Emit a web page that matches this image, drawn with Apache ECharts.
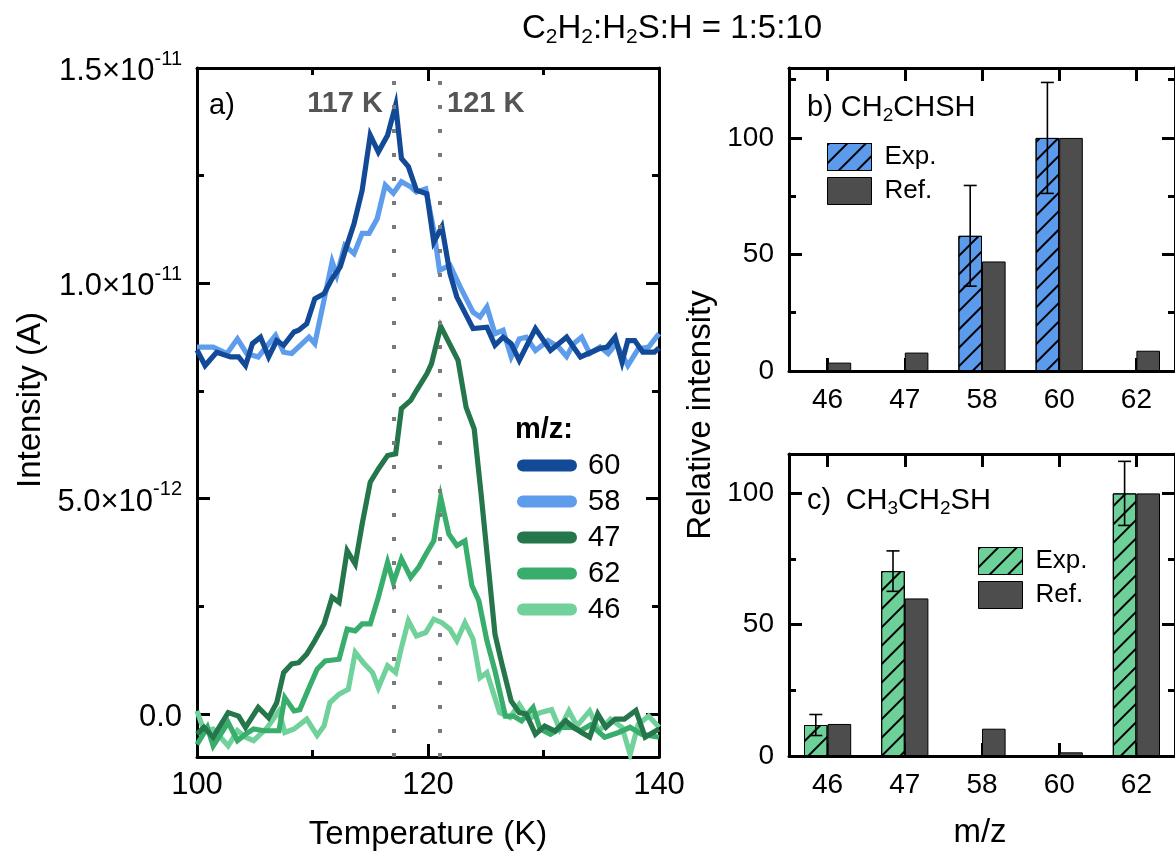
<!DOCTYPE html>
<html><head><meta charset="utf-8">
<script src="https://cdn.jsdelivr.net/npm/echarts@6/dist/echarts.min.js"></script>
<style>html,body{margin:0;padding:0;background:#fff}#c{width:1175px;height:857px}</style>
</head><body><div id="c"></div>
<script>
// ---------- Panel a) TPD traces (intensity in units of 1e-12 A) ----------
const t60 = [100.0,100.7,101.7,102.9,103.6,104.2,104.8,105.5,106.2,106.9,107.5,108.4,108.8,109.5,110.2,111.0,111.7,112.4,112.8,113.6,114.3,115.0,115.7,116.5,117.2,117.7,118.3,119.0,119.9,120.5,121.2,121.9,122.5,123.9,125.1,125.8,126.5,127.2,127.9,129.3,130.6,132.0,133.2,134.8,135.5,136.2,136.8,137.3,137.9,138.6,139.6,140.0];
const i60 = [8.45,8.09,8.40,8.29,8.29,8.09,8.60,8.75,8.29,8.67,8.56,8.87,8.91,9.06,9.64,9.76,10.11,10.38,10.73,11.39,12.16,13.44,13.05,13.44,14.14,12.90,12.71,12.16,12.08,10.96,11.31,10.23,9.68,8.95,8.98,8.56,8.75,8.60,8.21,8.95,8.44,8.75,8.29,8.48,8.52,8.75,8.17,8.67,8.67,8.40,8.40,8.50];
const t58 = [100.0,101.4,102.6,103.5,104.3,105.3,106.8,107.5,108.2,109.7,110.2,111.7,112.1,112.8,113.6,114.3,114.9,115.6,116.3,117.0,117.7,118.5,119.0,119.8,120.5,121.0,121.9,122.8,123.9,124.5,125.1,125.8,126.5,127.2,127.9,128.5,129.3,130.4,131.3,132.0,132.6,133.3,134.0,134.9,135.6,136.3,137.3,138.2,139.1,140.0];
const i58 = [8.52,8.52,8.37,8.71,8.37,8.29,8.79,8.40,8.37,8.75,8.60,10.50,10.19,10.88,10.69,11.16,11.16,11.50,12.28,12.09,12.36,12.24,12.12,12.19,11.23,10.30,10.42,9.91,9.33,9.22,9.45,8.83,8.91,8.29,8.71,8.75,8.44,8.67,8.52,8.30,8.60,8.75,8.37,8.52,8.37,8.60,8.09,8.48,8.52,8.83];
const t47 = [100.0,100.6,101.4,102.7,103.6,104.2,105.3,106.2,106.9,107.5,108.2,108.8,109.5,110.2,111.0,111.7,112.3,113.0,113.7,114.3,115.0,115.7,116.5,117.2,117.7,118.5,119.0,119.9,120.3,121.1,122.6,123.3,124.0,124.6,125.2,125.8,126.4,127.2,127.9,128.5,129.3,130.1,131.0,131.9,132.6,133.3,134.0,134.7,135.4,136.2,137.0,138.0,138.8,140.0];
const i47 = [-0.47,-0.31,-0.54,0.03,-0.05,-0.31,0.15,-0.09,0.26,0.96,1.16,1.19,1.39,1.70,2.09,2.71,2.59,3.79,3.48,4.41,5.38,5.69,6.00,6.04,7.09,7.28,7.51,7.90,8.13,9.00,8.21,7.12,6.62,5.10,3.48,1.85,1.16,0.30,0.03,0.00,-0.47,-0.28,-0.40,-0.16,-0.31,-0.43,-0.54,0.00,-0.31,-0.12,-0.12,0.08,-0.54,-0.35];
const t62 = [100.0,100.9,101.4,102.7,103.5,104.2,104.9,105.8,107.1,107.6,108.4,108.9,109.7,110.4,111.1,112.3,113.0,113.7,114.3,115.0,115.7,116.5,117.0,117.7,118.5,119.2,119.9,120.5,121.1,121.8,122.5,123.2,123.8,124.4,125.1,125.8,126.7,127.4,128.1,129.1,129.7,130.6,131.6,132.5,133.2,134.1,135.3,136.5,137.5,138.5,140.0];
const i62 = [-0.71,-0.31,-0.74,-0.20,-0.62,-0.47,-0.35,-0.39,-0.39,0.38,0.07,0.10,0.61,1.04,1.23,1.27,1.97,1.93,2.09,2.09,2.71,3.52,3.05,3.60,3.17,3.41,3.75,4.02,5.03,4.18,3.91,4.02,2.98,2.63,1.70,1.00,-0.05,-0.05,-0.16,0.15,-0.35,-0.47,-0.31,-0.31,-0.39,-0.25,-0.54,-0.43,-0.31,-0.47,-0.54];
const t46 = [100.0,100.6,101.4,102.7,103.5,104.2,104.9,106.1,107.1,107.6,108.4,109.5,110.4,111.0,111.5,112.3,113.1,113.7,114.4,115.2,115.7,116.5,117.2,117.7,118.3,119.0,119.8,120.5,121.2,121.9,122.5,123.2,123.9,124.5,125.1,126.2,127.1,127.9,128.7,129.7,130.7,131.4,132.2,132.9,134.0,134.8,135.8,136.8,137.5,138.2,139.1,140.0];
const i46 = [0.07,-0.39,-0.35,-0.74,-0.39,-0.54,-0.62,-0.31,0.07,-0.43,-0.35,-0.12,-0.50,-0.28,0.26,0.46,0.57,1.43,1.19,0.96,0.61,1.12,0.96,1.54,2.16,1.81,1.89,2.20,2.12,1.97,1.70,2.12,1.74,0.84,0.96,0.03,-0.08,0.22,-0.12,0.03,0.10,-0.35,0.07,-0.28,0.07,-0.39,-0.12,-0.31,-0.94,-0.24,-0.05,-0.31];
const peakTemps = [117, 121];
const peakLabels = ['117 K', '121 K'];
const yTickValues = [0, 5, 10, 15];
const yTickLabels = ['{n|0.0}', '{n|5.0×10}{s|-12}', '{n|1.0×10}{s|-11}', '{n|1.5×10}{s|-11}'];
const yMinorValues = [2.5, 7.5, 12.5];

// ---------- Panels b) and c) relative intensities ----------
const cats = ['46', '47', '58', '60', '62'];
const expB = [null, null, 58.0, 100, null];
const errB = [null, null, 21.6, 23.8, null];
const refB = [3.6, 7.9, 47.0, 100, 8.7];
const expC = [11.8, 70.4, null, null, 100];
const errC = [4.0, 7.7, null, null, 12.2];
const refC = [12.2, 60.0, 10.4, 1.4, 100];
const barTicks = [0, 50, 100];
const barMinorB = [25, 75, 125];
const barMinorC = [25, 75];

// ---------- styling ----------
const FONT = "'Liberation Sans', Arial, Helvetica, sans-serif";
const C = {c60:'#134a97', c58:'#5e9cec', c47:'#25764b', c62:'#39ae6c', c46:'#70d29a',
           expB:'#5c9bec', expC:'#6dd098', ref:'#4d4d4d', dash:'#7a7a7a'};
const AX = 3, BAR_W = 23.6;

const zip = (t, v) => t.map((x, i) => [x, v[i]]);
const errData = (e, v) => e.map((x, i) => x == null ? null : [i, v[i], x]).filter(d => d);

function errRender(params, api) {
  const xi = api.value(0), v = api.value(1), e = api.value(2);
  const top = api.coord([xi, v + e]);
  const bot = api.coord([xi, v - e]);
  const x = top[0] - BAR_W / 2;
  const cap = 6.5;
  const st = {stroke: '#000', lineWidth: 1.6};
  return {type: 'group', children: [
    {type: 'line', shape: {x1: x, y1: top[1], x2: x, y2: bot[1]}, style: st},
    {type: 'line', shape: {x1: x - cap, y1: top[1], x2: x + cap, y2: top[1]}, style: st},
    {type: 'line', shape: {x1: x - cap, y1: bot[1], x2: x + cap, y2: bot[1]}, style: st}
  ]};
}

const axisLine = {show: true, onZero: false, lineStyle: {color: '#000', width: AX}};
const tickMajor = {show: true, inside: true, length: 13, lineStyle: {color: '#000', width: AX}};
const tickMinor = {show: true, inside: true, length: 7, lineStyle: {color: '#000', width: AX}};

function valueY(grid, pos, min, max, major, minor, labels) {
  const main = {type: 'value', gridIndex: grid, position: pos, min: min, max: max,
    axisLine: axisLine, splitLine: {show: false},
    axisTick: Object.assign({customValues: major}, tickMajor),
    axisLabel: {show: false}};
  if (labels) main.axisLabel = labels;
  const mn = {type: 'value', gridIndex: grid, position: pos, min: min, max: max,
    axisLine: {show: false}, splitLine: {show: false},
    axisTick: Object.assign({customValues: minor}, tickMinor), axisLabel: {show: false}};
  return [main, mn];
}

const leftYLabel = {show: true, customValues: yTickValues, margin: 15,
  formatter: v => yTickLabels[yTickValues.indexOf(v)],
  rich: {n: {fontSize: 31, fontFamily: FONT, color: '#000', lineHeight: 38, verticalAlign: 'bottom'},
         s: {fontSize: 20, fontFamily: FONT, color: '#000', lineHeight: 20, verticalAlign: 'top'}}};
const barYLabel = {show: true, customValues: barTicks, margin: 15, fontSize: 28, color: '#000', fontFamily: FONT};

const yAxes = [].concat(
  valueY(0, 'left', -1, 15, yTickValues, yMinorValues, leftYLabel),   // 0,1
  valueY(0, 'right', -1, 15, yTickValues, yMinorValues, null),        // 2,3
  valueY(1, 'left', 0, 130, barTicks, barMinorB, barYLabel),          // 4,5
  valueY(1, 'right', 0, 130, barTicks, barMinorB, null),              // 6,7
  valueY(2, 'left', 0, 115, barTicks, barMinorC, barYLabel),          // 8,9
  valueY(2, 'right', 0, 115, barTicks, barMinorC, null)               // 10,11
);

function tempX(pos, showLabel) {
  return {type: 'value', gridIndex: 0, position: pos, min: 100, max: 140, interval: 20,
    axisLine: axisLine, splitLine: {show: false}, axisTick: tickMajor,
    minorTick: {show: true, splitNumber: 2, length: 7, lineStyle: {color: '#000', width: AX}},
    axisLabel: showLabel ? {margin: 13, fontSize: 31, color: '#000', fontFamily: FONT} : {show: false}};
}
function catX(grid, pos, showLabel) {
  return {type: 'category', gridIndex: grid, position: pos, data: cats, boundaryGap: true,
    axisLine: axisLine, splitLine: {show: false},
    axisTick: Object.assign({alignWithLabel: true}, tickMajor),
    axisLabel: showLabel ? {margin: 15, fontSize: 28, color: '#000', fontFamily: FONT} : {show: false}};
}

const decal = {symbol: 'rect', symbolSize: 1, color: '#000', dashArrayX: [1, 0], dashArrayY: [1.3, 11], rotation: -Math.PI / 4};

function lineSeries(name, t, v, color, extra) {
  return Object.assign({type: 'line', name: name, xAxisIndex: 0, yAxisIndex: 0,
    data: zip(t, v), showSymbol: false, symbol: 'none', animation: false,
    lineStyle: {color: color, width: 5.2, join: 'miter'}, itemStyle: {color: color}}, extra || {});
}

const series = [
  lineSeries('46', t46, i46, C.c46, {markLine: {silent: true, symbol: ['none', 'none'], animation: false,
    label: {show: false}, lineStyle: {color: C.dash, width: 4, type: [4, 20]},
    data: peakTemps.map(t => ({xAxis: t}))}}),
  lineSeries('62', t62, i62, C.c62),
  lineSeries('47', t47, i47, C.c47),
  lineSeries('58', t58, i58, C.c58),
  lineSeries('60', t60, i60, C.c60),
  {type: 'bar', name: 'Exp. b', xAxisIndex: 2, yAxisIndex: 4, data: expB, barWidth: BAR_W, barGap: '0%', animation: false,
   itemStyle: {color: C.expB, borderColor: '#000', borderWidth: 1, decal: decal}},
  {type: 'bar', name: 'Ref. b', xAxisIndex: 2, yAxisIndex: 4, data: refB, barWidth: BAR_W, barGap: '0%', animation: false,
   itemStyle: {color: C.ref, borderColor: '#000', borderWidth: 1}},
  {type: 'custom', name: 'err b', xAxisIndex: 2, yAxisIndex: 4, data: errData(errB, expB), renderItem: errRender, z: 5, animation: false},
  {type: 'bar', name: 'Exp. c', xAxisIndex: 4, yAxisIndex: 8, data: expC, barWidth: BAR_W, barGap: '0%', animation: false,
   itemStyle: {color: C.expC, borderColor: '#000', borderWidth: 1, decal: decal}},
  {type: 'bar', name: 'Ref. c', xAxisIndex: 4, yAxisIndex: 8, data: refC, barWidth: BAR_W, barGap: '0%', animation: false,
   itemStyle: {color: C.ref, borderColor: '#000', borderWidth: 1}},
  {type: 'custom', name: 'err c', xAxisIndex: 4, yAxisIndex: 8, data: errData(errC, expC), renderItem: errRender, z: 5, animation: false}
];

const barLegend = (names, left, top) => ({
  data: names, orient: 'vertical', left: left, top: top, itemWidth: 44, itemHeight: 27, itemGap: 6,
  icon: 'rect', selectedMode: false, padding: 0,
  formatter: n => n.split(' ')[0],
  itemStyle: {borderColor: '#000', borderWidth: 1},
  textStyle: {fontSize: 26, color: '#000', fontFamily: FONT, padding: [0, 0, 0, 8]}
});

const rt = (x, y, text, opt) => ({type: 'text', x: x, y: y, silent: true,
  style: Object.assign({text: text, fill: '#000', fontSize: 29, fontFamily: FONT, align: 'left', verticalAlign: 'middle'}, opt || {})});
const subRich = (F, s, L) => ({
  n: {fontSize: F, fontFamily: FONT, lineHeight: F, verticalAlign: 'top', color: '#000'},
  s: {fontSize: s, fontFamily: FONT, lineHeight: L, verticalAlign: 'bottom', color: '#000'}});

const option = {
  backgroundColor: '#fff',
  animation: false,
  textStyle: {fontFamily: FONT},
  grid: [
    {left: 197, top: 68, width: 462, height: 689},
    {left: 789, top: 68, width: 394, height: 303},
    {left: 789, top: 454, width: 394, height: 302}
  ],
  xAxis: [tempX('bottom', true), tempX('top', false), catX(1, 'bottom', true), catX(1, 'top', false), catX(2, 'bottom', true), catX(2, 'top', false)],
  yAxis: yAxes,
  legend: [
    {data: ['60', '58', '47', '62', '46'], orient: 'vertical', left: 517, top: 451, itemWidth: 60, itemHeight: 12, itemGap: 7,
     selectedMode: false, padding: 0,
     icon: 'path://M6,0L54,0A6,6,0,0,1,54,12L6,12A6,6,0,0,1,6,0Z',
     itemStyle: {borderWidth: 0},
     textStyle: {fontSize: 29, lineHeight: 28, color: '#000', fontFamily: FONT, padding: [0, 0, 0, 6]}},
    barLegend(['Exp. b', 'Ref. b'], 827, 143),
    barLegend(['Exp. c', 'Ref. c'], 978, 547)
  ],
  series: series,
  graphic: [
    rt(672, 30, '{n|C}{s|2}{n|H}{s|2}{n|:H}{s|2}{n|S:H = 1:5:10}', {align: 'center', rich: subRich(33, 21, 36)}),
    rt(209, 106, 'a)'),
    rt(383, 104, peakLabels[0], {align: 'right', fontWeight: 'bold', fill: '#555'}),
    rt(447, 104, peakLabels[1], {align: 'left', fontWeight: 'bold', fill: '#555'}),
    rt(515, 430, 'm/z:', {fontWeight: 'bold'}),
    rt(807, 109, '{n|b) CH}{s|2}{n|CHSH}', {rich: subRich(29, 19, 32)}),
    rt(807, 502, '{n|c)\u2002CH}{s|3}{n|CH}{s|2}{n|SH}', {rich: subRich(29, 19, 32)}),
    rt(428, 835, 'Temperature (K)', {align: 'center', fontSize: 33}),
    rt(980, 833, 'm/z', {align: 'center', fontSize: 33}),
    {type: 'text', x: 31, y: 400, rotation: Math.PI / 2, silent: true,
     style: {text: 'Intensity (A)', fill: '#000', fontSize: 33, fontFamily: FONT, align: 'center', verticalAlign: 'middle'}},
    {type: 'text', x: 701, y: 415, rotation: Math.PI / 2, silent: true,
     style: {text: 'Relative intensity', fill: '#000', fontSize: 33, fontFamily: FONT, align: 'center', verticalAlign: 'middle'}}
  ]
};

const chart = echarts.init(document.getElementById('c'), null, {renderer: 'canvas'});
chart.setOption(option);
</script>
</body></html>
